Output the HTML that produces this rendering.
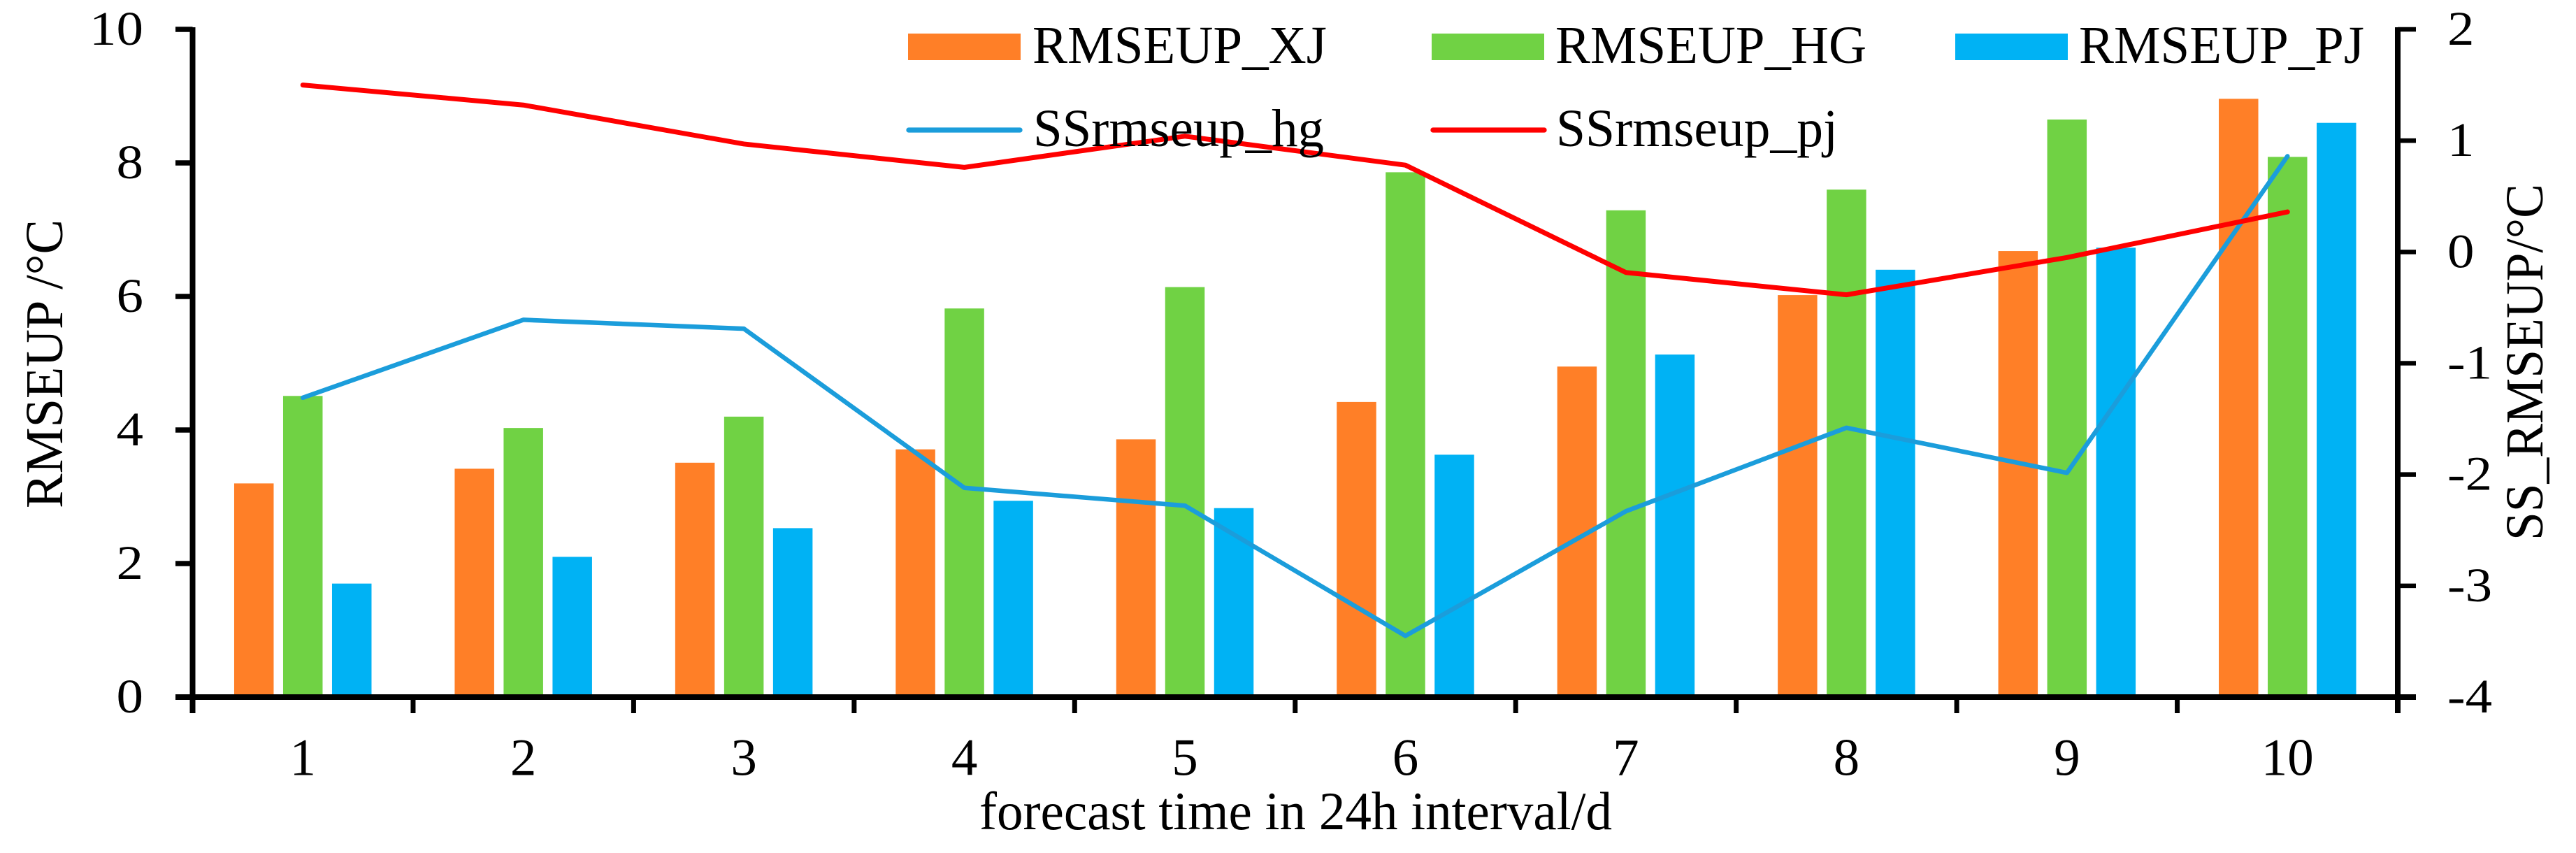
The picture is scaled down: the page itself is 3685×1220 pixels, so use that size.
<!DOCTYPE html>
<html lang="en">
<head>
<meta charset="utf-8">
<title>RMSEUP chart</title>
<style>
html,body{margin:0;padding:0;background:#fff;width:3685px;height:1220px;overflow:hidden}
svg{display:block;position:absolute;left:0;top:0}
text{font-family:"Liberation Serif","Times New Roman",serif;fill:#000}
</style>
</head>
<body>
<svg id="chart" xmlns="http://www.w3.org/2000/svg" width="3685" height="1220" viewBox="0 0 3685 1220">
  <rect x="0" y="0" width="3685" height="1220" fill="#ffffff"/>
  <g id="bars"></g>
  <g id="axes"></g>
  <g id="lines"></g>
  <g id="labels"></g>
  <text x="1401" y="1186" font-size="77" textLength="905" lengthAdjust="spacingAndGlyphs">forecast time in 24h interval/d</text>
  <text font-size="76" textLength="413" lengthAdjust="spacingAndGlyphs" transform="translate(89,727) rotate(-90)">RMSEUP /°C</text>
  <text font-size="76" textLength="510" lengthAdjust="spacingAndGlyphs" transform="translate(3637,773) rotate(-90)">SS_RMSEUP/°C</text>
  <g>
    <g>
      <rect x="1299" y="48" width="161" height="38" fill="#ff7f27"/>
      <text x="1477" y="90" font-size="76" textLength="421" lengthAdjust="spacingAndGlyphs">RMSEUP_XJ</text>
    </g>
    <g>
      <rect x="2048" y="48" width="161" height="38" fill="#70d244"/>
      <text x="2225" y="90" font-size="76" textLength="445" lengthAdjust="spacingAndGlyphs">RMSEUP_HG</text>
    </g>
    <g>
      <rect x="2797" y="48" width="161" height="38" fill="#00b2f4"/>
      <text x="2974" y="90" font-size="76" textLength="408" lengthAdjust="spacingAndGlyphs">RMSEUP_PJ</text>
    </g>
    <g>
      <line x1="1300" y1="186" x2="1459" y2="186" stroke="#1b9ddb" stroke-width="7.3" stroke-linecap="round"/>
      <text x="1478" y="209" font-size="76" textLength="416" lengthAdjust="spacingAndGlyphs">SSrmseup_hg</text>
    </g>
    <g>
      <line x1="2050" y1="186" x2="2209" y2="186" stroke="#ff0000" stroke-width="7.3" stroke-linecap="round"/>
      <text x="2226" y="209" font-size="76" textLength="403" lengthAdjust="spacingAndGlyphs">SSrmseup_pj</text>
    </g>
  </g>
</svg>
<script>
var categories = ["1","2","3","4","5","6","7","8","9","10"];
var rmseupXJ = [3.20,3.42,3.51,3.71,3.86,4.42,4.95,6.02,6.68,8.96];
var rmseupHG = [4.51,4.03,4.20,5.82,6.14,7.86,7.29,7.60,8.65,8.09];
var rmseupPJ = [1.70,2.10,2.53,2.94,2.83,3.63,5.13,6.40,6.73,8.60];
var ssRmseupHg = [-1.31,-0.61,-0.69,-2.12,-2.28,-3.45,-2.33,-1.58,-1.985,0.86];
var ssRmseupPj = [1.50,1.32,0.97,0.76,1.04,0.78,-0.185,-0.385,-0.05,0.36];
var leftTicks = [0,2,4,6,8,10];
var rightTicks = [-4,-3,-2,-1,0,1,2];

var NS = "http://www.w3.org/2000/svg";
var plotLeft = 275.5, plotRight = 3430, plotBottom = 997, plotTop = 42;
var bandWidth = (plotRight - plotLeft) / categories.length;
function xCenter(i){ return plotLeft + bandWidth * (i + 0.5); }
function yLeft(v){ return plotBottom - (v - 0) / (10 - 0) * (plotBottom - plotTop); }
function yRight(v){ return plotBottom - (v + 4) / (2 + 4) * (plotBottom - plotTop); }
function make(tag, attrs, parent){
  var el = document.createElementNS(NS, tag);
  for (var k in attrs) el.setAttribute(k, attrs[k]);
  parent.appendChild(el);
  return el;
}
var barsG = document.getElementById("bars");
var axesG = document.getElementById("axes");
var linesG = document.getElementById("lines");
var labelsG = document.getElementById("labels");

function drawBars(values, offset, color, key){
  values.forEach(function(v, i){
    var top = yLeft(v);
    var r = make("rect", {x: xCenter(i) + offset - 28.25, y: top, width: 56.5, height: plotBottom - top, fill: color}, barsG);
    
    
  });
}
drawBars(rmseupXJ, -70, "#ff7f27", "xj");
drawBars(rmseupHG, 0, "#70d244", "hg");
drawBars(rmseupPJ, 70, "#00b2f4", "pj");

function axisLine(x1, y1, x2, y2, w, name){
  var l = make("line", {x1: x1, y1: y1, x2: x2, y2: y2, stroke: "#000", "stroke-width": w}, axesG);
  
  
}
axisLine(plotLeft, plotTop - 3, plotLeft, 1020, 8, 'left-y-axis-line');
axisLine(plotRight, plotTop - 3, plotRight, 1020, 8, 'right-y-axis-line');
axisLine(251, plotBottom, 3456, plotBottom, 8, 'x-axis-line');
for (var t = 1; t < categories.length; t++) {
  axisLine(plotLeft + bandWidth * t, plotBottom, plotLeft + bandWidth * t, 1020, 7, 'x-tick-' + t);
}
leftTicks.forEach(function(v){
  if (v !== 0) axisLine(251, yLeft(v), plotLeft, yLeft(v), 7.5, 'left-y-tick-' + v);
  var tx = make("text", {"font-size": 77, "text-anchor": "end", transform: "translate(205," + (yLeft(v) + 22) + ") scale(1,0.9)"}, labelsG);
  tx.textContent = String(v);
  
  
});
rightTicks.forEach(function(v){
  if (v !== -4) axisLine(plotRight, yRight(v), 3456, yRight(v), 6.5, 'right-y-tick-' + v);
  var tx = make("text", {"font-size": 77, transform: "translate(3501," + (yRight(v) + 22) + ") scale(1,0.9)"}, labelsG);
  tx.textContent = String(v);
  
  
});
categories.forEach(function(c, i){
  var tx = make("text", {"font-size": 75, "text-anchor": "middle", transform: "translate(" + xCenter(i) + ",1108.5)"}, labelsG);
  tx.textContent = c;
  
  
});

function drawLine(values, color, width, name){
  var pts = values.map(function(v, i){ return xCenter(i) + "," + yRight(v); }).join(" ");
  var p = make("polyline", {points: pts, fill: "none", stroke: color, "stroke-width": width, "stroke-linejoin": "round", "stroke-linecap": "round"}, linesG);
  
  
}
drawLine(ssRmseupHg, "#1b9ddb", 6.5, 'line-ssrmseup-hg');
drawLine(ssRmseupPj, "#ff0000", 7, 'line-ssrmseup-pj');
</script>
</body>
</html>
